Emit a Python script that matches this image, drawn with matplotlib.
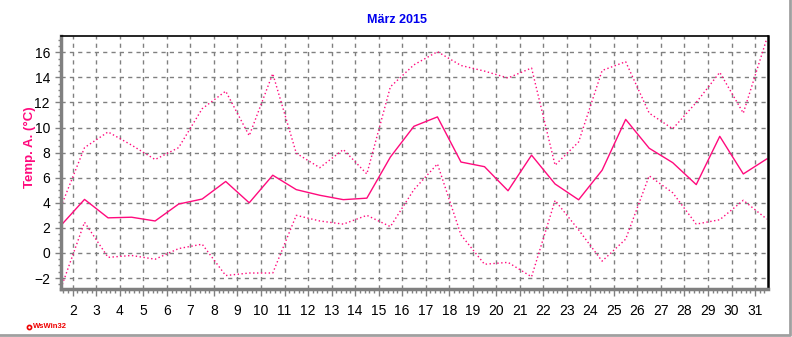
import numpy as np
import matplotlib.pyplot as plt
from matplotlib.lines import Line2D
from matplotlib.ticker import MultipleLocator

plt.rcParams['font.family'] = ['Liberation Sans', 'DejaVu Sans']

days = list(range(1, 32))
t_max = [3.7, 8.4, 9.65, 8.6, 7.45, 8.4, 11.5, 12.9, 9.35, 14.3,
         7.95, 6.8, 8.25, 6.3, 13.25, 15.0, 16.05, 14.95, 14.5, 13.95,
         14.75, 7.0, 8.85, 14.55, 15.25, 11.15, 9.9, 12.0, 14.4, 11.15, 17.1]
t_mean = [2.2, 4.27, 2.8, 2.85, 2.55, 3.9, 4.3, 5.7, 4.0, 6.2,
          5.05, 4.6, 4.25, 4.37, 7.65, 10.1, 10.85, 7.25, 6.88, 4.96,
          7.8, 5.5, 4.24, 6.6, 10.65, 8.35, 7.2, 5.45, 9.3, 6.3, 7.5]
t_min = [-2.8, 2.45, -0.35, -0.2, -0.5, 0.35, 0.7, -1.8, -1.6, -1.6,
         3.0, 2.55, 2.3, 3.0, 2.1, 5.05, 7.1, 1.44, -0.9, -0.75,
         -1.9, 4.19, 1.84, -0.65, 1.1, 6.15, 4.8, 2.3, 2.65, 4.2, 2.7]

col = '#ff0a7d'
x = np.array(days) + 0.5

fig = plt.figure(figsize=(7.92, 3.37), dpi=100)
ax = fig.add_axes([61 / 792, 1 - 288.7 / 337, (768 - 61) / 792, (288.7 - 36) / 337])

ax.plot(x, t_max, color=col, lw=1.0, linestyle=(0, (1, 1.8)))
ax.plot(x, t_mean, color=col, lw=1.0)
ax.plot(x, t_min, color=col, lw=1.0, linestyle=(0, (1, 1.8)))

ax.set_xlim(1.5, 31.55)
ax.set_ylim(-2.85, 17.3)
ax.set_xticks(range(2, 32))
ax.set_xticklabels([str(d) for d in range(2, 32)])
ax.xaxis.set_minor_locator(MultipleLocator(0.2))
ax.set_yticks(range(-2, 17, 2))
ax.yaxis.set_minor_locator(MultipleLocator(0.5))
ax.grid(True, which='major', color='#808080', linestyle=(0, (3, 3)), lw=1)
ax.set_axisbelow(True)

ax.tick_params(axis='both', which='major', labelsize=10, color='#808080')
ax.tick_params(axis='x', which='major', length=5, width=1, pad=6)
ax.tick_params(axis='x', which='minor', length=3, width=1, color='#808080')
ax.tick_params(axis='y', which='major', length=4, width=1, pad=4)
ax.tick_params(axis='y', which='minor', length=2, width=1, color='#808080')

ax.spines['left'].set_color('#808080')
ax.spines['left'].set_linewidth(2.5)
ax.spines['bottom'].set_color('#808080')
ax.spines['bottom'].set_linewidth(2.5)
ax.spines['top'].set_linewidth(1.2)
ax.spines['right'].set_linewidth(1.8)

fig.text(397 / 792, 1 - 20 / 337, 'März 2015', color='#0000ee', fontsize=9,
         fontweight='bold', ha='center', va='center')
fig.text(30 / 792, 1 - 147 / 337, 'Temp. A. (°C)', color=col, fontsize=9.5,
         fontweight='bold', rotation=90, ha='center', va='center')
fig.text(33 / 792, 1 - 327 / 337, 'WsWin32', color='#ee0000', fontsize=5.5,
         fontweight='bold', ha='left', va='center')
fig.add_artist(Line2D([29 / 792], [1 - 327 / 337], marker='o', ms=3,
                      mfc='white', mec='#ee0000', mew=1.2))

fig.add_artist(Line2D([0, 790 / 792, 790 / 792], [1 - 335 / 337, 1 - 335 / 337, 1],
                      color='#a0a0a0', lw=2))

fig.savefig('out.png', dpi=100)
